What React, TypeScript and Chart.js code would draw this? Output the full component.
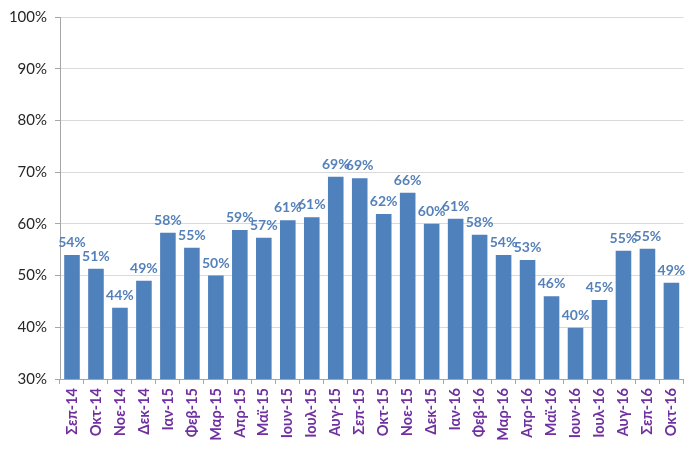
import React, { useEffect, useRef } from "react";
import { Chart, registerables } from "chart.js";

Chart.register(...registerables);

const categories = [
  "Σεπ-14", "Οκτ-14", "Νοε-14", "Δεκ-14", "Ιαν-15", "Φεβ-15", "Μαρ-15", "Απρ-15",
  "Μαϊ-15", "Ιουν-15", "Ιουλ-15", "Αυγ-15", "Σεπ-15", "Οκτ-15", "Νοε-15", "Δεκ-15",
  "Ιαν-16", "Φεβ-16", "Μαρ-16", "Απρ-16", "Μαϊ-16", "Ιουν-16", "Ιουλ-16", "Αυγ-16",
  "Σεπ-16", "Οκτ-16",
];

const values = [
  54.0, 51.3, 43.8, 49.0, 58.3, 55.4, 50.0, 58.8, 57.3, 60.7, 61.3, 69.1, 68.8,
  61.9, 66.0, 60.0, 61.0, 57.9, 54.0, 53.0, 46.0, 39.9, 45.3, 54.8, 55.2, 48.6,
];

const yMin = 30;
const yMax = 100;
const yStep = 10;

const labelPlugin = {
  id: "valueLabels",
  afterDatasetsDraw(chart: any) {
    const ctx = chart.ctx;
    const meta = chart.getDatasetMeta(0);
    ctx.save();
    ctx.font = "bold 14px Lato, 'Open Sans', sans-serif";
    ctx.fillStyle = "#5581B9";
    ctx.textAlign = "center";
    ctx.textBaseline = "alphabetic";
    meta.data.forEach((bar: any, i: number) => {
      const v = values[i];
      ctx.fillText(Math.round(v) + "%", bar.x, bar.y - 8);
    });
    ctx.restore();
  },
};

export default function App() {
  const ref = useRef<HTMLCanvasElement>(null);
  useEffect(() => {
    document.body.style.margin = "0";
    const chart = new Chart(ref.current!, {
      type: "bar",
      data: {
        labels: categories,
        datasets: [
          {
            data: values,
            backgroundColor: "#4F81BD",
            borderWidth: 0,
            barPercentage: 0.65,
            categoryPercentage: 1,
          },
        ],
      },
      options: {
        responsive: false,
        animation: false,
        layout: { padding: { top: 15, right: 9, left: 0, bottom: 0 } },
        plugins: { legend: { display: false }, tooltip: { enabled: false } },
        scales: {
          x: {
            offset: true,
            grid: {
              offset: true,
              drawOnChartArea: false,
              drawTicks: true,
              tickLength: 5,
              color: "#A6A6A6",
            },
            border: { color: "#A6A6A6" },
            ticks: {
              autoSkip: false,
              minRotation: 90,
              maxRotation: 90,
              color: "#7030A0",
              padding: 4,
              font: { family: "Lato, 'Open Sans', sans-serif", size: 14.5, weight: "bold" },
            },
            afterFit(scale: any) {
              scale.height = 74;
            },
          },
          y: {
            min: yMin,
            max: yMax,
            ticks: {
              stepSize: yStep,
              color: "#262626",
              padding: 8,
              font: { family: "Lato, 'Open Sans', sans-serif", size: 15 },
              callback: (v: any) => v + "%",
            },
            grid: {
              color: "#D9D9D9",
              tickColor: "#A6A6A6",
              tickLength: 5,
            },
            border: { color: "#A6A6A6" },
            afterFit(scale: any) {
              scale.width = 60;
            },
          },
        },
      },
      plugins: [labelPlugin],
    });
    return () => chart.destroy();
  }, []);
  return (
    <div style={{ width: 693, height: 453 }}>
      <canvas ref={ref} width={693} height={453} />
    </div>
  );
}
